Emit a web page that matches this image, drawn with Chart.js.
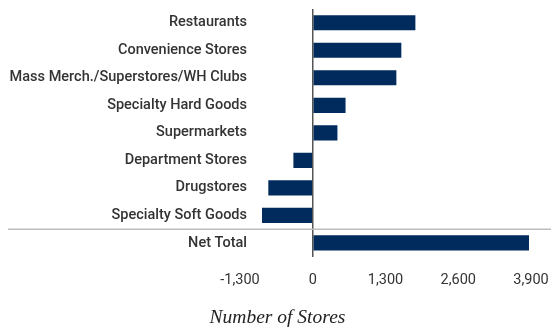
<!DOCTYPE html>
<html lang="en">
<head>
    <meta charset="UTF-8">
    <title>Number of Stores</title>
    <script src="https://cdn.jsdelivr.net/npm/chart.js"></script>
    <style>
        body { margin: 0; background: #fff; }
        #wrap { width: 551px; height: 328px; position: relative; }
    </style>
</head>
<body>
    <div id="wrap"><canvas id="storeChart"></canvas></div>

    <script>
        // Data
        const categories = ['Restaurants', 'Convenience Stores', 'Mass Merch./Superstores/WH Clubs', 'Specialty Hard Goods',
            'Supermarkets', 'Department Stores', 'Drugstores', 'Specialty Soft Goods', 'Net Total'];
        const storeChange = [1834, 1583, 1494, 586, 441, -346, -794, -907, 3864];
        const xTicks = [-1300, 0, 1300, 2600, 3900];

        // Category labels sit a little inside the plot area, so draw them here
        // (the y axis would clip them to its own box)
        const categoryLabels = {
            id: 'categoryLabels',
            afterDraw(chart) {
                const y = chart.scales.y;
                const ctx = chart.ctx;
                ctx.save();
                ctx.fillStyle = '#333';
                ctx.font = '500 14.5px Roboto';
                ctx.textAlign = 'right';
                ctx.textBaseline = 'middle';
                categories.forEach((name, i) => {
                    ctx.fillText(name, chart.chartArea.left + 7, y.getPixelForValue(i));
                });
                ctx.restore();
            }
        };

        // Grey rule above the net total row
        const separatorLine = {
            id: 'separatorLine',
            afterDatasetsDraw(chart) {
                const y = chart.scales.y;
                const ctx = chart.ctx;
                const py = (y.getPixelForValue(7) + y.getPixelForValue(8)) / 2;
                ctx.save();
                ctx.strokeStyle = '#bdbdbd';
                ctx.lineWidth = 1.5;
                ctx.beginPath();
                ctx.moveTo(8, py);
                ctx.lineTo(chart.width, py);
                ctx.stroke();
                ctx.restore();
            }
        };

        new Chart(document.getElementById('storeChart').getContext('2d'), {
            type: 'bar',
            data: {
                labels: categories,
                datasets: [{ data: storeChange, backgroundColor: '#002b5c', barPercentage: 0.55, categoryPercentage: 1 }]
            },
            options: {
                indexAxis: 'y',
                responsive: true,
                maintainAspectRatio: false,
                animation: false,
                layout: { padding: { left: 24, right: 20, top: 9, bottom: 0 } },
                plugins: {
                    legend: { display: false },
                    tooltip: { enabled: false },
                    title: {
                        display: true,
                        position: 'bottom',
                        text: 'Number of Stores',
                        color: '#222',
                        font: { family: 'Liberation Serif', style: 'italic', size: 19.5, weight: 'normal', lineHeight: 1 },
                        padding: { top: 4, bottom: 0 }
                    }
                },
                scales: {
                    x: {
                        min: -1300,
                        max: 3900,
                        afterBuildTicks: axis => { axis.ticks = xTicks.map(v => ({ value: v })); },
                        border: { display: false },
                        grid: {
                            drawTicks: false,
                            color: c => c.tick && c.tick.value === 0 ? '#555' : 'rgba(0,0,0,0)',
                            lineWidth: 1.5
                        },
                        ticks: {
                            padding: 0,
                            color: '#333',
                            font: { family: 'Roboto', size: 14.5, lineHeight: 3.3 },
                            callback: v => v.toLocaleString('en-US')
                        }
                    },
                    y: {
                        border: { display: false },
                        grid: { display: false, drawTicks: false },
                        ticks: { display: false },
                        afterFit: axis => { axis.width = 216; }
                    }
                }
            },
            plugins: [separatorLine, categoryLabels]
        });
    </script>
</body>
</html>
